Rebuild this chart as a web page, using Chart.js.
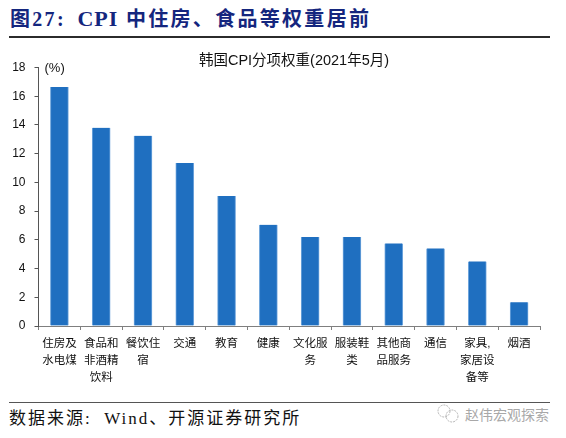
<!DOCTYPE html>
<html>
<head>
<meta charset="utf-8">
<script src="https://cdn.jsdelivr.net/npm/chart.js@4/dist/chart.umd.min.js"></script>
<style>
    html, body { margin: 0; padding: 0; background: #fff; }
    body { width: 566px; height: 438px; position: relative; overflow: hidden; }
    .abs { position: absolute; white-space: nowrap; }
    #heading { left: 10px; top: 4px; font: bold 20px/30px "Liberation Serif", "Noto Sans CJK SC"; color: #14267e; letter-spacing: 2.3px; }
    #heading .latin { font-size: 22px; letter-spacing: 1px; margin-left: -3px; margin-right: -7px; }
    #rule-top { position: absolute; left: 9px; top: 36px; width: 541px; height: 2px; background: #2b2b2b; }
    #rule-bottom { position: absolute; left: 9px; top: 402px; width: 541px; height: 1px; background: #555; }
    #source { left: 9px; top: 406px; font: 17px/26px "Liberation Serif", "Noto Sans CJK SC"; color: #111; letter-spacing: 2px; }
    #mark { left: 465px; top: 404px; font: 14px/20px "Noto Sans CJK SC"; color: #a8a8a8; }
    #mark-icon { position: absolute; left: 434px; top: 403px; }
    #chart-box { position: absolute; left: 0; top: 41px; width: 566px; height: 360px; }
</style>
</head>
<body>
<div class="abs" id="heading">图27:&nbsp;&nbsp;<span class="latin">CPI</span>&nbsp;&nbsp;中住房、食品等权重居前</div>
<div id="rule-top"></div>
<div id="chart-box"><canvas id="chart-weights"></canvas></div>
<div id="rule-bottom"></div>
<div class="abs" id="source">数据来源:&nbsp;&nbsp;Wind、开源证券研究所</div>
<svg id="mark-icon" width="28" height="22" fill="none" stroke="#b5b5b5" stroke-width="1" stroke-dasharray="2 1">
    <circle cx="10" cy="8" r="6"></circle>
    <circle cx="18" cy="13" r="6"></circle>
</svg>
<div class="abs" id="mark">赵伟宏观探索</div>

<script>
// Chart data
const categories = [
    ['住房及', '水电煤'],
    ['食品和', '非酒精', '饮料'],
    ['餐饮住', '宿'],
    ['交通'],
    ['教育'],
    ['健康'],
    ['文化服', '务'],
    ['服装鞋', '类'],
    ['其他商', '品服务'],
    ['通信'],
    ['家具,', '家居设', '备等'],
    ['烟酒']
];
const weights = [16.65, 13.8, 13.25, 11.35, 9.05, 7.05, 6.2, 6.2, 5.75, 5.4, 4.5, 1.65];
const yTicks = [0, 2, 4, 6, 8, 10, 12, 14, 16, 18];

const chartTitle = '韩国CPI分项权重(2021年5月)';
const unitLabel = '(%)';

const axisColor = '#7f7f7f';
const cjkFont = '"Liberation Sans", "Noto Sans CJK SC"';

// Title and unit are drawn inside the chart canvas
const captionPlugin = {
    id: 'captions',
    afterDraw(chart) {
        const { ctx, chartArea } = chart;
        ctx.save();
        ctx.fillStyle = '#111';
        ctx.textBaseline = 'middle';
        ctx.textAlign = 'center';
        ctx.font = '14.5px ' + cjkFont;
        ctx.fillText(chartTitle, 294, 20);
        ctx.textAlign = 'left';
        ctx.font = '13px ' + cjkFont;
        ctx.fillText(unitLabel, chartArea.left + 6, chartArea.top + 1);
        ctx.restore();
    }
};

new Chart(document.getElementById('chart-weights'), {
    type: 'bar',
    data: {
        labels: categories,
        datasets: [{
            data: weights,
            backgroundColor: '#1f6fc0',
            borderColor: '#6fa5dc',
            borderWidth: { left: 1, right: 1 },
            borderSkipped: false,
            barThickness: 18
        }]
    },
    options: {
        responsive: true,
        maintainAspectRatio: false,
        animation: false,
        layout: { padding: { left: 0, right: 26, top: 26.5, bottom: 0 } },
        plugins: {
            legend: { display: false },
            tooltip: { enabled: false }
        },
        scales: {
            x: {
                grid: { drawOnChartArea: false, color: axisColor, tickLength: 4 },
                border: { color: axisColor },
                ticks: {
                    color: '#111',
                    maxRotation: 0,
                    autoSkip: false,
                    padding: 5,
                    font: { family: cjkFont, size: 11.5, lineHeight: 1.5 }
                },
                afterFit(scale) { scale.height = 75; }
            },
            y: {
                min: 0,
                max: 18,
                afterBuildTicks(scale) { scale.ticks = yTicks.map(v => ({ value: v })); },
                grid: { drawOnChartArea: false, color: '#555', tickLength: 4 },
                border: { color: '#555' },
                ticks: {
                    color: '#111',
                    padding: 9,
                    font: { family: '"Liberation Sans"', size: 12 }
                },
                afterFit(scale) { scale.width = 38.5; }
            }
        }
    },
    plugins: [captionPlugin]
});
</script>
</body>
</html>
